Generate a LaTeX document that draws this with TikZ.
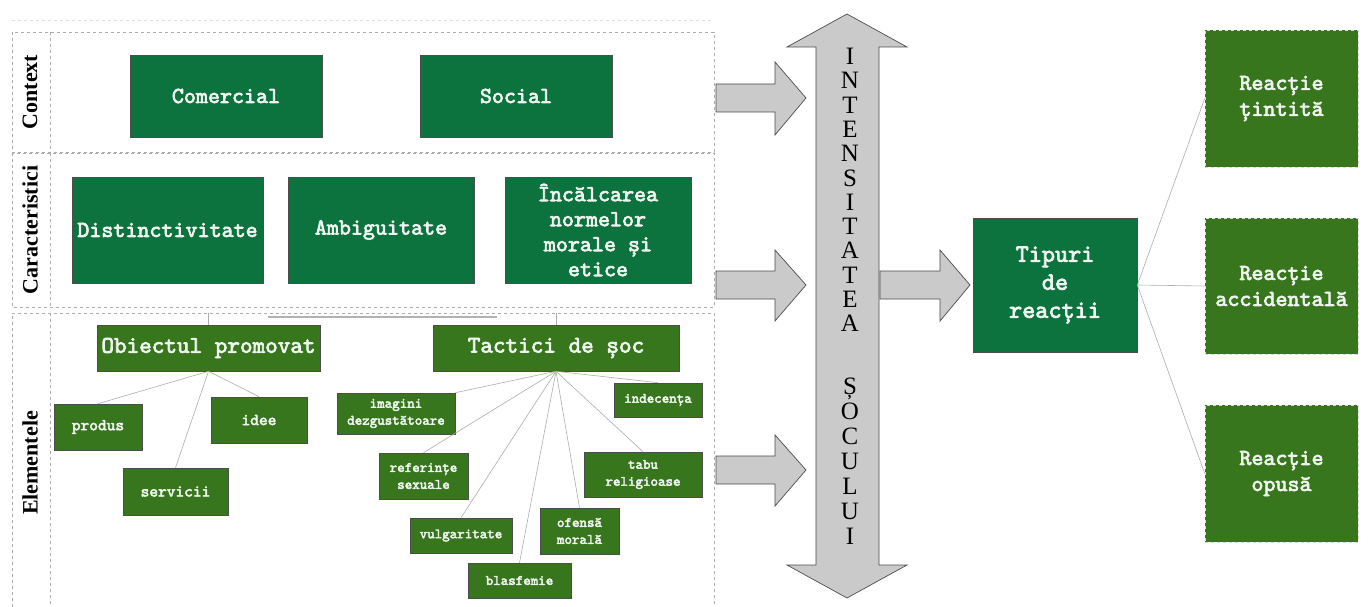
\documentclass[tikz,border=0pt]{standalone}
\usepackage{fontspec}
\setmainfont{Liberation Mono}
\newfontfamily\serifb{Liberation Serif}
\newfontfamily\courb{lmmono10-regular}[Extension=.otf, FakeBold=3]
\definecolor{gdark}{RGB}{12,114,62}
\definecolor{golive}{RGB}{56,118,30}
\definecolor{txt}{RGB}{240,244,240}
\definecolor{agray}{RGB}{202,202,202}
\begin{document}
\begin{tikzpicture}[x=1pt,y=-1pt,
  box/.style={draw=black!70, line width=0.6pt, fill=gdark, text=txt, align=center, inner sep=1pt,
    font=\courb\fontsize{22.9}{25}\selectfont},
  obox/.style={box, fill=golive, font=\courb\fontsize{24}{25}\selectfont},
  sbox/.style={box, fill=golive, font=\courb\fontsize{16.6}{18}\selectfont},
  tbox/.style={box, fill=golive, font=\courb\fontsize{14.3}{17}\selectfont},
  rbox/.style={box, fill=golive, draw=white!70!gray, dashed, font=\courb\fontsize{22.9}{26}\selectfont},
  band/.style={draw=gray!65, dashed, line width=0.8pt},
  link/.style={draw=gray!65, line width=0.6pt},
  lab/.style={font=\serifb\bfseries\fontsize{22}{22}\selectfont, text=black, rotate=90},
  vword/.style={font=\serifb\fontsize{25}{24.3}\selectfont, align=center, inner sep=0pt, anchor=north},
  garrow/.style={fill=agray, draw=gray!60!black, line width=0.7pt}]
\useasboundingbox (0,0) rectangle (1368,607);

% faint top line
\draw[dashed, draw=gray!25, line width=0.6pt] (12,20) -- (714,20);
% bands
\draw[band] (12,32) rectangle (714,152);
\draw[band] (50,32) -- (50,152);
\draw[band] (12,153) rectangle (714,307);
\draw[band] (50,153) -- (50,307);
\draw[band] (12,607) -- (12,313) -- (714,313) -- (714,607);
\draw[band] (50,313) -- (50,607);

\node[lab] (lc) at (30,92) {Context};
\node[lab] (lk) at (30,230) {Caracteristici};
\node[lab] (le) at (30,463) {Elementele};

% context
\node[box, minimum width=192pt, minimum height=82pt] (com) at (226,96) {Comercial};
\node[box, minimum width=192pt, minimum height=82pt] (soc) at (516,96) {Social};
% caracteristici
\node[box, minimum width=191pt, minimum height=106pt] (dis) at (167.5,230) {Distinctivitate};
\node[box, minimum width=186pt, minimum height=106pt] (amb) at (381,230) {Ambiguitate};
\node[box, minimum width=186pt, minimum height=106pt] (inc) at (598,230) {Încălcarea\\normelor\\morale și\\etice};

% elementele
\coordinate (t1) at (208.5,313);
\coordinate (t2) at (556,313);
\draw[gray!60, line width=1.6pt] (268,317) -- (497,317);
\node[obox, minimum width=223pt, minimum height=46pt] (ob) at (208.5,348) {Obiectul promovat};
\node[obox, minimum width=246pt, minimum height=46pt] (tac) at (556,348) {Tactici de șoc};
\draw[link] (t1) -- (ob.north);
\draw[link] (t2) -- (tac.north);

\node[sbox, minimum width=88pt, minimum height=46pt] (pro) at (98,427) {produs};
\node[sbox, minimum width=96pt, minimum height=46pt] (ide) at (259,420) {idee};
\node[sbox, minimum width=105pt, minimum height=47pt] (ser) at (175.5,491.5) {servicii};

\node[tbox, minimum width=118pt, minimum height=41pt] (ima) at (396,413.5) {imagini\\dezgustătoare};
\node[tbox, minimum width=88pt, minimum height=34pt] (ind) at (658,400) {indecența};
\node[tbox, minimum width=89pt, minimum height=46pt] (ref) at (423.5,476) {referințe\\sexuale};
\node[tbox, minimum width=118pt, minimum height=45pt] (tab) at (643,474.5) {tabu\\religioase};
\node[tbox, minimum width=102pt, minimum height=35pt] (vul) at (461,535.5) {vulgaritate};
\node[tbox, minimum width=79pt, minimum height=46pt] (ofe) at (579.5,531) {ofensă\\morală};
\node[tbox, minimum width=103pt, minimum height=35pt] (bla) at (519.5,580.5) {blasfemie};

\draw[link] (ob.south) -- (pro.north);
\draw[link] (ob.south) -- (ide.north);
\draw[link] (ob.south) -- (ser.north);
\draw[link] (tac.south) -- (ima.north east);
\draw[link] (tac.south) -- (ind.north);
\draw[link] (tac.south) -- (ref.north);
\draw[link] (tac.south) -- (tab.north);
\draw[link] (tac.south) -- (vul.north);
\draw[link] (tac.south) -- (ofe.north);
\draw[link] (tac.south) -- (bla.north);

% big double arrow
\draw[garrow] (847,14) -- (907,47) -- (879,47) -- (879,565) -- (907,565) -- (847,598)
  -- (787,565) -- (816,565) -- (816,47) -- (787,47) -- cycle;
\node[vword] (w1) at (850,48) {I\\N\\T\\E\\N\\S\\I\\T\\A\\T\\E\\A};
\node[vword, font=\serifb\fontsize{25}{25}\selectfont] (w2) at (850,378) {Ș\\O\\C\\U\\L\\U\\I};

% block arrows
\draw[garrow] (716,84) -- (775,84) -- (775,62) -- (806,98) -- (775,135) -- (775,112) -- (716,112) -- cycle;
\draw[garrow] (716,271) -- (775,271) -- (775,250) -- (806,285) -- (775,321) -- (775,299) -- (716,299) -- cycle;
\draw[garrow] (716,456) -- (775,456) -- (775,435) -- (806,470) -- (775,506) -- (775,484) -- (716,484) -- cycle;
\draw[garrow] (880,271) -- (940,271) -- (940,250) -- (970,285) -- (940,321) -- (940,299) -- (880,299) -- cycle;

% reactions
\node[box, minimum width=164pt, minimum height=134pt, font=\courb\fontsize{25}{28}\selectfont] (tip) at (1055,285) {Tipuri\\de\\reacții};
\node[rbox, minimum width=153pt, minimum height=137pt] (r1) at (1281.5,98.5) {Reacție\\țintită};
\node[rbox, minimum width=153pt, minimum height=136pt] (r2) at (1281.5,286) {Reacție\\accidentală};
\node[rbox, minimum width=153pt, minimum height=137pt] (r3) at (1281.5,473.5) {Reacție\\opusă};
\draw[link] (tip.east) -- (r1.west);
\draw[link] (tip.east) -- (r2.west);
\draw[link] (tip.east) -- (r3.west);
\end{tikzpicture}
\end{document}
